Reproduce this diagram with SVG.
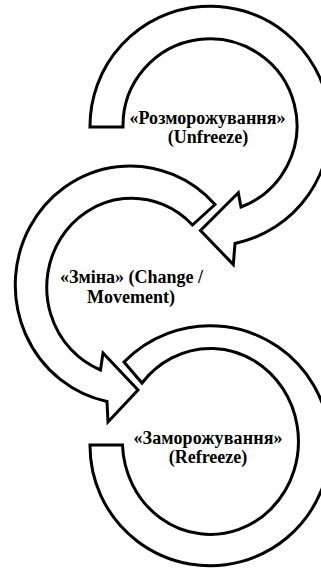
<svg xmlns="http://www.w3.org/2000/svg" width="321" height="568" viewBox="0 0 321 568">
  <style>
    .arrow { fill: #ffffff; stroke: #000000; stroke-width: 3; stroke-linejoin: miter; }
    .lbl { font-family: "Liberation Serif", "Times New Roman", serif; font-weight: bold; font-size: 18px; fill: #000000; text-anchor: middle; }
  </style>
  <rect width="321" height="568" fill="#ffffff"/>
  <g id="node-unfreeze">
    <path class="arrow" d="M 90,127 A 120 120 0 1 1 235,243.5 L 233.3,264.5 L 200.5,230.5 L 238.3,192.7 L 241,207 A 87 87 0 1 0 123,127 Z"/>
    <text class="lbl" x="207.5" y="124" textLength="156" lengthAdjust="spacing">«Розморожування»</text>
    <text class="lbl" x="208" y="143">(Unfreeze)</text>
  </g>
  <g id="node-change">
    <path class="arrow" d="M 215,204.5 A 115 119 0 1 0 107,401.5 L 108,422 L 138,390 L 103,353 L 100.5,370 A 85 89 0 1 1 192.5,225 Z"/>
    <text class="lbl" x="131.5" y="283" textLength="143" lengthAdjust="spacing">«Зміна» (Change /</text>
    <text class="lbl" x="131" y="303">Movement)</text>
  </g>
  <g id="node-refreeze">
    <path class="arrow" d="M 124,362 A 120 120 0 1 1 90,445 L 122.5,445 A 88 93 0 1 0 142,383 Z"/>
    <text class="lbl" x="208" y="444" textLength="149" lengthAdjust="spacing">«Заморожування»</text>
    <text class="lbl" x="208" y="463">(Refreeze)</text>
  </g>
  <g id="connectors"></g>
</svg>
